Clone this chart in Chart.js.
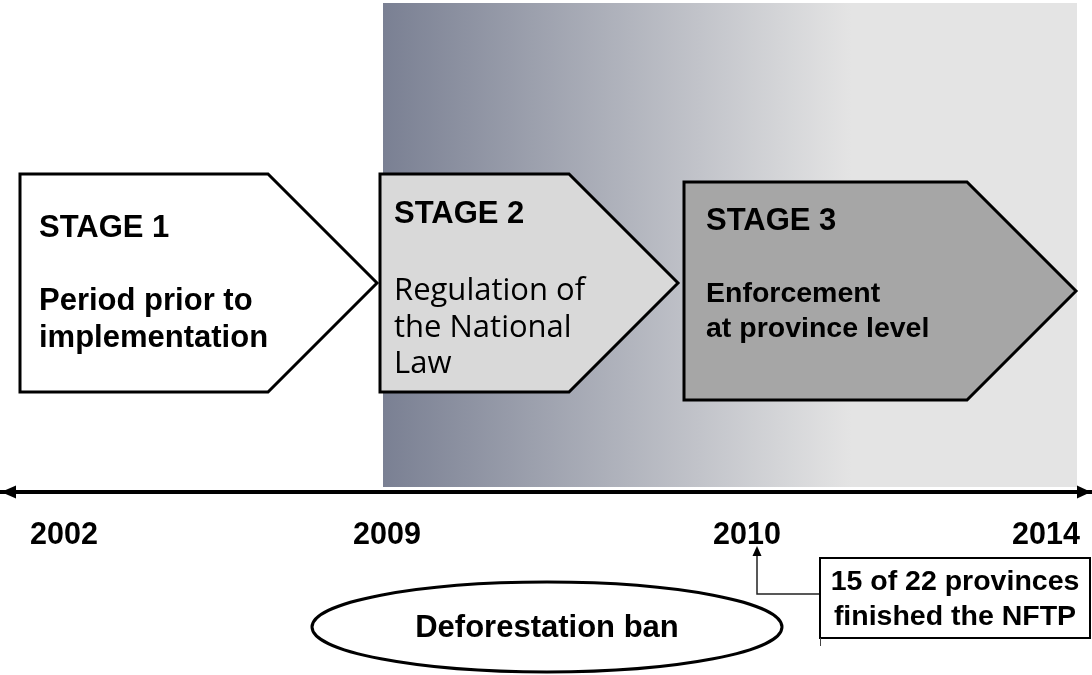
<!DOCTYPE html>
<html><head><meta charset="utf-8">
<script src="https://cdn.jsdelivr.net/npm/chart.js@4/dist/chart.umd.min.js"></script>
<style>html,body{margin:0;padding:0;background:#fff;overflow:hidden}#wrap{width:1092px;height:675px;position:relative}</style>
</head><body><div id="wrap"><canvas id="c"></canvas></div>
<script>
// ---- data (timeline units) ----
const years = ['2002', '2009', '2010', '2014'];
const yearPos = [64, 387, 747, 1046];
const stageTitles = ['STAGE 1', 'STAGE 2', 'STAGE 3'];
const stageLines = [
  ['Period prior to', 'implementation'],
  ['Regulation of', 'the National', 'Law'],
  ['Enforcement', 'at province level']
];
const stageStart = [20, 380, 684];
const stageEnd = [377, 678, 1076];
const banLabel = 'Deforestation ban';
const noteYearIndex = 2;
const noteLines = ['15 of 22 provinces', 'finished the NFTP'];
const shadedSpan = [383, 1077];

// ---- layout / style (kept separate from data) ----
const L = {
  axisY: 492, shadeTop: 3, shadeBottom: 487,
  stageTop: [174, 174, 182], stageBottom: [392, 392, 400], shoulder: 109,
  stageFill: ['#ffffff', '#d9d9d9', '#a6a6a6'],
  titleDx: [19, 14, 22], titleDy: [63, 49, 48],
  lineDy: [[136, 173], [126, 163, 199], [120, 155]],
  lineFont: ['bold 31px "Liberation Sans", Arial, sans-serif', '31px "Open Sans", "Noto Sans", sans-serif', 'bold 28.5px "Liberation Sans", Arial, sans-serif'],
  ellipse: {cx: 547, cy: 627, rx: 235, ry: 45},
  note: {left: 820, right: 1090, top: 558, bottom: 638, elbowY: 594, arrowTop: 546}
};
const titleFont = 'bold 31px "Liberation Sans", Arial, sans-serif';

const diagram = {
  id: 'diagram',
  beforeDraw(chart) {
    const {ctx, scales: {x, y}} = chart;
    const x0 = x.getPixelForValue(shadedSpan[0]), x1 = x.getPixelForValue(shadedSpan[1]);
    const g = ctx.createLinearGradient(x0, 0, x1, 0);
    g.addColorStop(0, '#7a8093');
    g.addColorStop(0.675, '#e4e4e4');
    g.addColorStop(1, '#e4e4e4');
    ctx.save();
    ctx.fillStyle = g;
    const t = y.getPixelForValue(L.shadeTop), b = y.getPixelForValue(L.shadeBottom);
    ctx.fillRect(x0, t, x1 - x0, b - t);
    ctx.restore();
  },
  afterDraw(chart) {
    const {ctx, scales: {x, y}} = chart;
    const X = v => x.getPixelForValue(v), Y = v => y.getPixelForValue(v);
    ctx.save();
    // stage arrows
    stageTitles.forEach((title, i) => {
      const s = X(stageStart[i]), e = X(stageEnd[i]), sh = X(stageEnd[i] - L.shoulder);
      const t = Y(L.stageTop[i]), b = Y(L.stageBottom[i]);
      ctx.beginPath();
      ctx.moveTo(s, t); ctx.lineTo(sh, t); ctx.lineTo(e, (t + b) / 2);
      ctx.lineTo(sh, b); ctx.lineTo(s, b); ctx.closePath();
      ctx.fillStyle = L.stageFill[i]; ctx.fill();
      ctx.lineWidth = 3; ctx.lineJoin = 'miter'; ctx.strokeStyle = '#000'; ctx.stroke();
      ctx.fillStyle = '#000'; ctx.textAlign = 'left'; ctx.textBaseline = 'alphabetic';
      ctx.font = titleFont;
      ctx.fillText(title, s + L.titleDx[i], t + L.titleDy[i]);
      ctx.font = L.lineFont[i];
      stageLines[i].forEach((ln, j) => ctx.fillText(ln, s + L.titleDx[i], t + L.lineDy[i][j]));
    });
    // axis arrowheads
    const ay = Y(L.axisY);
    ctx.fillStyle = '#000';
    ctx.beginPath(); ctx.moveTo(X(1), ay); ctx.lineTo(X(16), ay - 6.5); ctx.lineTo(X(16), ay + 6.5); ctx.closePath(); ctx.fill();
    ctx.beginPath(); ctx.moveTo(X(1091), ay); ctx.lineTo(X(1077), ay - 6.5); ctx.lineTo(X(1077), ay + 6.5); ctx.closePath(); ctx.fill();
    // ellipse
    const E = L.ellipse;
    ctx.beginPath();
    ctx.ellipse(X(E.cx), Y(E.cy), X(E.cx + E.rx) - X(E.cx), Y(E.cy + E.ry) - Y(E.cy), 0, 0, Math.PI * 2);
    ctx.fillStyle = '#fff'; ctx.fill();
    ctx.lineWidth = 3; ctx.strokeStyle = '#000'; ctx.stroke();
    ctx.fillStyle = '#000'; ctx.font = 'bold 31px "Liberation Sans", Arial, sans-serif';
    ctx.textAlign = 'center';
    ctx.fillText(banLabel, X(E.cx), Y(637));
    // note connector
    const N = L.note, nx = X(yearPos[noteYearIndex] + 10);
    ctx.strokeStyle = '#222'; ctx.lineWidth = 1.5;
    ctx.beginPath(); ctx.moveTo(nx, Y(N.arrowTop + 8)); ctx.lineTo(nx, Y(N.elbowY)); ctx.lineTo(X(N.left), Y(N.elbowY)); ctx.stroke();
    ctx.fillStyle = '#000';
    ctx.beginPath(); ctx.moveTo(nx, Y(N.arrowTop)); ctx.lineTo(nx - 4.5, Y(N.arrowTop + 10)); ctx.lineTo(nx + 4.5, Y(N.arrowTop + 10)); ctx.closePath(); ctx.fill();
    // note box
    ctx.fillStyle = '#fff';
    ctx.fillRect(X(N.left), Y(N.top), X(N.right) - X(N.left), Y(N.bottom) - Y(N.top));
    ctx.lineWidth = 2; ctx.strokeStyle = '#000';
    ctx.strokeRect(X(N.left), Y(N.top), X(N.right) - X(N.left), Y(N.bottom) - Y(N.top));
    ctx.lineWidth = 1; ctx.strokeStyle = '#444';
    ctx.beginPath(); ctx.moveTo(X(N.left) + 0.5, Y(N.bottom)); ctx.lineTo(X(N.left) + 0.5, Y(N.bottom + 8)); ctx.stroke();
    ctx.fillStyle = '#000'; ctx.font = 'bold 28.5px "Liberation Sans", Arial, sans-serif';
    ctx.textAlign = 'center';
    const nc = (X(N.left) + X(N.right)) / 2;
    ctx.fillText(noteLines[0], nc, Y(590));
    ctx.fillText(noteLines[1], nc, Y(625));
    ctx.restore();
  }
};

new Chart(document.getElementById('c'), {
  type: 'scatter',
  data: {datasets: []},
  options: {
    responsive: true, maintainAspectRatio: false, animation: false, events: [],
    layout: {padding: 0},
    plugins: {legend: {display: false}, tooltip: {enabled: false}},
    scales: {
      x: {
        type: 'linear', min: 0, max: 1092,
        position: {y: L.axisY},
        grid: {display: false},
        border: {display: true, color: '#000', width: 4},
        afterBuildTicks: s => { s.ticks = yearPos.map(v => ({value: v})); },
        afterFit: s => { s.paddingLeft = 0; s.paddingRight = 0; s.paddingTop = 0; s.paddingBottom = 0; },
        ticks: {
          autoSkip: false, maxRotation: 0, padding: 17, color: '#000',
          font: {family: '"Liberation Sans", Arial, sans-serif', size: 30.5, weight: 'bold'},
          callback: (v, i) => years[i]
        }
      },
      y: {type: 'linear', min: 0, max: 675, reverse: true, display: false}
    }
  },
  plugins: [diagram]
});
</script></body></html>
